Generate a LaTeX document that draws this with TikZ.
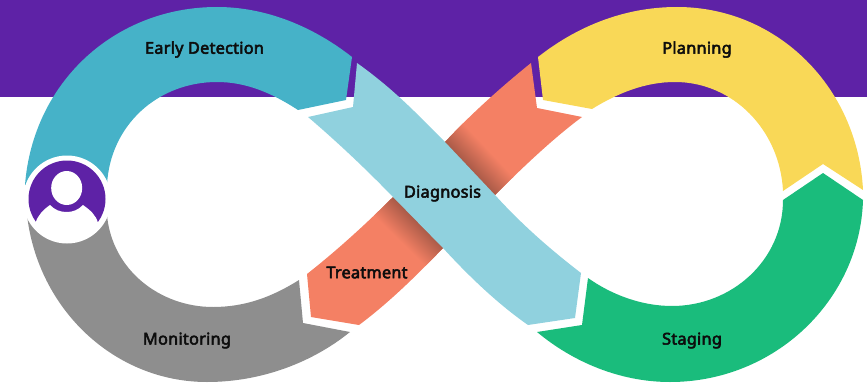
\documentclass[tikz,border=0pt]{standalone}
\usepackage{fontspec}
\setmainfont{Noto Sans}
\newfontfamily\labelfont{Noto Sans}[FakeBold=3.2, LetterSpace=1.6]
\definecolor{darkpurple}{RGB}{94, 34, 166}
\definecolor{tealband}{RGB}{70, 178, 200}
\definecolor{yellowband}{RGB}{249, 216, 87}
\definecolor{greenband}{RGB}{26, 188, 124}
\definecolor{grayband}{RGB}{142, 142, 142}
\definecolor{orangeband}{RGB}{244, 128, 100}
\definecolor{lightteal}{RGB}{144, 209, 222}
\definecolor{shadeband}{RGB}{165, 88, 70}

\begin{document}
\begin{tikzpicture}[
    x=0.75pt, y=-0.75pt,
    label/.style={font=\labelfont\fontsize{12.2pt}{14pt}\selectfont, text=black!95},
    shadebox/.style={left color=shadeband, right color=orangeband}
]
    \useasboundingbox (0,0) rectangle (867,385);
    \fill[darkpurple] (0,0) rectangle (867,97);

    % left loop
    \fill[tealband] (25,185) .. controls (33,82) and (115,7) .. (217,7) .. controls (268,7) and (315,28) .. (352,57)
        -- (346,100) -- (298,110) .. controls (272,93) and (246,82) .. (217,82) .. controls (158,82) and (110,125) .. (107,185) -- cycle;
    \fill[grayband] (27,215) .. controls (38,310) and (115,382) .. (207,382) .. controls (262,382) and (313,362) .. (350,332)
        -- (303,323) -- (299,280) .. controls (272,297) and (245,307) .. (213,307) .. controls (160,307) and (112,270) .. (107,215) -- cycle;

    % right loop
    \fill[yellowband] (538,57) .. controls (575,28) and (622,7) .. (677,7) .. controls (778,7) and (858,88) .. (863,190)
        -- (823,164) -- (783,191) .. controls (780,130) and (733,82) .. (675,82) .. controls (645,82) and (618,93) .. (592,109)
        -- (543,100) -- cycle;
    \fill[greenband] (537,332) .. controls (573,362) and (620,382) .. (670,382) .. controls (775,382) and (860,300) .. (863,200)
        -- (823,173) -- (783,200) .. controls (783,260) and (732,306) .. (672,306) .. controls (642,306) and (612,295) .. (588,278)
        -- (582,325) -- cycle;

    % crossing bands
    \begin{scope}
        \clip (531,63) .. controls (500,88) and (470,115) .. (445,142) -- (393,197) .. controls (365,225) and (335,252) .. (307,274)
            -- (311,317) -- (359,325) .. controls (390,302) and (420,272) .. (443,248) -- (495,195) .. controls (525,165) and (555,137) .. (582,117)
            -- (537,108) -- cycle;
        \fill[orangeband] (290,50) rectangle (600,340);
        \begin{scope}[transform canvas={shift={(470,168.5)}, rotate=43.3}]
            \shade[shadebox] (-2,-60) rectangle (26,60);
        \end{scope}
        \begin{scope}[transform canvas={shift={(418,222.5)}, rotate=225.6}]
            \shade[shadebox] (-2,-60) rectangle (26,60);
        \end{scope}
    \end{scope}
    \fill[lightteal] (357,63) .. controls (395,90) and (420,117) .. (445,142) -- (495,195) .. controls (525,228) and (555,253) .. (581,273)
        -- (575,318) -- (528,325) .. controls (495,302) and (465,272) .. (443,248) -- (393,197) .. controls (365,168) and (335,140) .. (308,117)
        -- (353,107) -- cycle;

    % user badge
    \fill[white] (67,199.5) circle (44);
    \fill[darkpurple] (67,199) circle (38.5);
    \fill[white] (66.7,188) ellipse (15.5 and 17);
    \fill[white] (35.5,223) .. controls (38,215) and (43,210) .. (50,205) .. controls (55,210) and (60,212) .. (66.7,212)
        .. controls (73,212) and (78,210) .. (83,205) .. controls (90,210) and (96,215) .. (98,223)
        .. controls (90,238) and (78,241) .. (67,241) .. controls (56,241) and (43,238) .. (35.5,223) -- cycle;

    \node[label] (detection) at (204.5,49.5) {Early Detection};
    \node[label] (planning) at (697,49.5) {Planning};
    \node[label] (diagnosis) at (442.5,193.5) {Diagnosis};
    \node[label] (treatment) at (367,272.5) {Treatment};
    \node[label] (monitoring) at (187,340.5) {Monitoring};
    \node[label] (staging) at (692,340.5) {Staging};
\end{tikzpicture}
\end{document}
